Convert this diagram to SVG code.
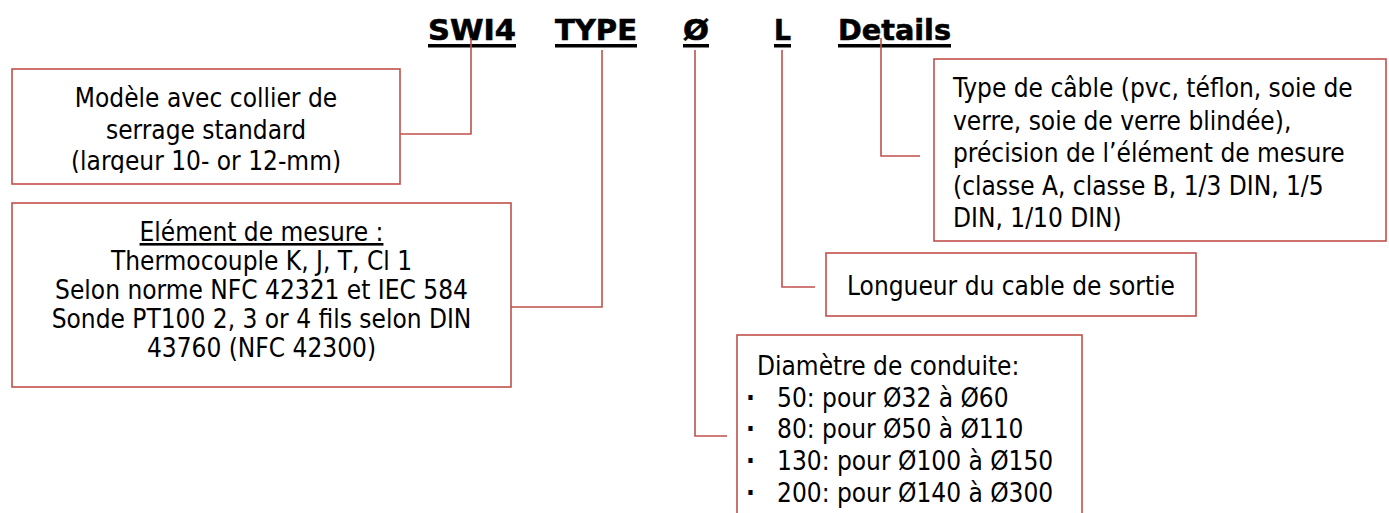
<svg xmlns="http://www.w3.org/2000/svg" width="1389" height="513" viewBox="0 0 1389 513">
<style>
.box{fill:#fff;stroke:#c0504d;stroke-width:1.6}
.con{fill:none;stroke:#c0504d;stroke-width:1.6}
.t{font-family:"DejaVu Sans Condensed","DejaVu Sans",sans-serif;font-stretch:condensed;font-size:26px;fill:#000}
.c{text-anchor:middle}
.b{font-weight:bold}
.h{font-family:"DejaVu Sans",sans-serif;font-weight:bold;font-size:29px;fill:#000;stroke:#000;stroke-width:0.6}
.ul{fill:#000}
</style>
<defs>
<clipPath id="clip1"><rect x="12" y="69" width="388" height="104"/></clipPath>
</defs>
<rect width="1389" height="513" fill="#fff"/>
<g id="title">
<text class="h" x="428" y="40" textLength="88" lengthAdjust="spacingAndGlyphs">SWI4</text>
<text class="h" x="555" y="40" textLength="82" lengthAdjust="spacingAndGlyphs">TYPE</text>
<text class="h" x="683" y="40" textLength="26" lengthAdjust="spacingAndGlyphs">Ø</text>
<text class="h" x="774" y="40" textLength="17" lengthAdjust="spacingAndGlyphs">L</text>
<text class="h" x="838" y="40" textLength="113" lengthAdjust="spacingAndGlyphs">Details</text>
<rect class="ul" x="428" y="44" width="88" height="3.5"/>
<rect class="ul" x="555" y="44" width="82" height="3.5"/>
<rect class="ul" x="683" y="44" width="26" height="3.5"/>
<rect class="ul" x="774" y="44" width="17" height="3.5"/>
<rect class="ul" x="838" y="44" width="113" height="3.5"/>
</g>
<g id="connectors">
<path class="con" d="M471,38 V134 H400"/>
<path class="con" d="M602,50 V307 H511"/>
<path class="con" d="M695,50 V436 H727"/>
<path class="con" d="M782,50 V287 H815"/>
<path class="con" d="M881,38 V156 H920"/>
</g>
<g id="box-modele">
<rect class="box" x="12" y="69" width="388" height="115"/>
<g clip-path="url(#clip1)">
<text class="t c" x="206" y="107">Modèle avec collier de</text>
<text class="t c" x="206" y="139">serrage standard</text>
<text class="t c" x="206" y="170">(largeur 10- or 12-mm)</text>
</g>
</g>
<g id="box-element">
<rect class="box" x="12" y="203" width="499" height="184"/>
<text class="t c" x="261.5" y="241" text-decoration="underline">Elément de mesure :</text>
<text class="t c" x="261.5" y="270">Thermocouple K, J, T, Cl 1</text>
<text class="t c" x="261.5" y="299">Selon norme NFC 42321 et IEC 584</text>
<text class="t c" x="261.5" y="328">Sonde PT100 2, 3 or 4 fils selon DIN</text>
<text class="t c" x="261.5" y="357">43760 (NFC 42300)</text>
</g>
<g id="box-details">
<rect class="box" x="934" y="59" width="452" height="182"/>
<text class="t" x="953" y="97">Type de câble (pvc, téflon, soie de</text>
<text class="t" x="953" y="129.5">verre, soie de verre blindée),</text>
<text class="t" x="953" y="162">précision de l’élément de mesure</text>
<text class="t" x="953" y="194.5">(classe A, classe B, 1/3 DIN, 1/5</text>
<text class="t" x="953" y="227">DIN, 1/10 DIN)</text>
</g>
<g id="box-longueur">
<rect class="box" x="826" y="253" width="370" height="63"/>
<text class="t" x="847" y="295">Longueur du cable de sortie</text>
</g>
<g id="box-diametre">
<rect class="box" x="737" y="335" width="345" height="190"/>
<text class="t" x="757" y="375">Diamètre de conduite:</text>
<text class="t b" x="746" y="407">·</text>
<text class="t" x="777" y="407">50: pour Ø32 à Ø60</text>
<text class="t b" x="746" y="438">·</text>
<text class="t" x="777" y="438">80: pour Ø50 à Ø110</text>
<text class="t b" x="746" y="470">·</text>
<text class="t" x="777" y="470">130: pour Ø100 à Ø150</text>
<text class="t b" x="746" y="502">·</text>
<text class="t" x="777" y="502">200: pour Ø140 à Ø300</text>
</g>
</svg>
